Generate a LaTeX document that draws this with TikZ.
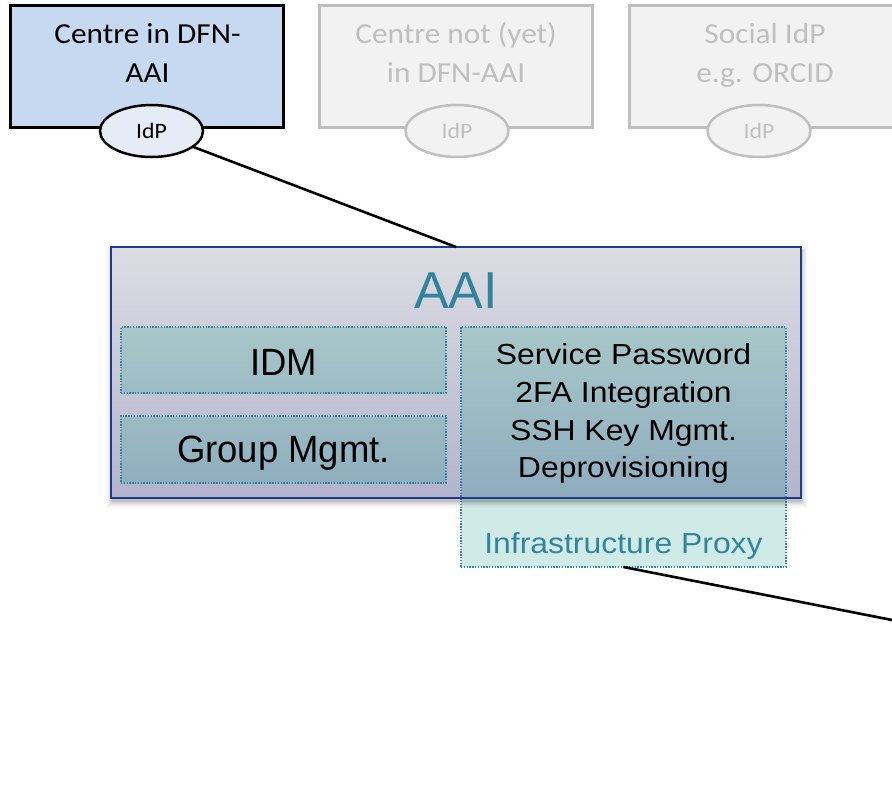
\documentclass[tikz,border=0pt]{standalone}
\usepackage{fontspec}
\newfontfamily\calib{Carlito}[FakeStretch=1.08]
\newfontfamily\arialx{Liberation Sans}[FakeStretch=1.1]
\newfontfamily\arialc{Liberation Sans}[FakeStretch=0.96]
\newfontfamily\arialn{Liberation Sans}
\usetikzlibrary{shapes.geometric}
\definecolor{boxblue}{HTML}{C6D9F1}
\definecolor{ellblue}{HTML}{E6ECF6}
\definecolor{greyfill}{HTML}{F2F2F2}
\definecolor{greyline}{HTML}{BFBFBF}
\definecolor{navy}{HTML}{1F3C88}
\definecolor{teal}{HTML}{31849B}
\definecolor{aaitop}{HTML}{DCDDE3}
\definecolor{aaibot}{HTML}{B3B3CE}
\definecolor{intop}{HTML}{A7C7C9}
\definecolor{inmid}{HTML}{9CBCC5}
\definecolor{inmid2}{HTML}{9BBAC4}
\definecolor{inlow}{HTML}{90AFBF}
\definecolor{inbot}{HTML}{8EACBE}
\definecolor{proxyfill}{HTML}{D0EBE7}
\begin{document}
\begin{tikzpicture}[x=1pt,y=-1pt,
  centrebox/.style={rectangle,inner sep=0pt,outer sep=0pt,minimum width=273pt,minimum height=122pt},
  activebox/.style={centrebox,draw=black,line width=3pt,fill=boxblue},
  greybox/.style={centrebox,draw=greyline,line width=3pt,fill=greyfill},
  idpshape/.style={ellipse,inner sep=0pt,outer sep=0pt,minimum width=103pt,minimum height=52pt,font=\calib\fontsize{22}{24}\selectfont},
  activeidp/.style={idpshape,draw=black,line width=2.5pt,fill=ellblue,text=black},
  greyidp/.style={idpshape,draw=greyline,line width=2.5pt,fill=greyfill,text=greyline},
  toptext/.style={anchor=base,inner sep=0pt,font=\calib\fontsize{29}{39}\selectfont},
  innerbox/.style={rectangle,inner sep=0pt,outer sep=0pt,draw=teal,line width=1.4pt,dash pattern=on 1.4pt off 1.4pt},
  innertext/.style={anchor=base,inner sep=0pt,font=\arialx\fontsize{29}{38}\selectfont,text=black},
  bigtext/.style={anchor=base,inner sep=0pt,font=\arialc\fontsize{38}{42}\selectfont,text=black},
  conn/.style={draw=black,line width=2.6pt}
]
\useasboundingbox (0,0) rectangle (892,790);

% top boxes
\node[activebox] (c1) at (146.5,66) {};
\node[greybox] (c2) at (456,66) {};
\node[greybox] (c3) at (766,66) {};

\node[toptext,text=black] (c1a) at (147.5,43) {Centre in DFN-};
\node[toptext,text=black] (c1b) at (147.5,82) {AAI};
\node[toptext,text=greyline] (c2a) at (456,43) {Centre not (yet)};
\node[toptext,text=greyline] (c2b) at (456,82) {in DFN-AAI};
\node[toptext,text=greyline] (c3a) at (765,43) {Social IdP};
\node[toptext,text=greyline] (c3b) at (765,82) {e.g. ORCID};

\node[activeidp] (idp1) at (151.5,131) {IdP};
\node[greyidp] (idp2) at (457,131) {IdP};
\node[greyidp] (idp3) at (759,131) {IdP};

% proxy lower part
\fill[proxyfill] (461,498) rectangle (786,567);

% AAI shadow
\foreach \i/\o in {0/0.08,1/0.06,2/0.045,3/0.035,4/0.025,5/0.02,6/0.015}{
  \fill[black,opacity=\o] (111-\i+1,251-\i) rectangle (801+\i+1,502+\i);
}

% AAI box
\node[rectangle,inner sep=0pt,outer sep=0pt,minimum width=690pt,minimum height=251pt,
      top color=aaitop,bottom color=aaibot] (aai) at (456,372.5) {};
\node[anchor=base,inner sep=0pt,font=\arialn\fontsize{52}{56}\selectfont,text=teal] (aailabel) at (456,308) {AAI};

% inner boxes
\shade[top color=intop,bottom color=inmid] (121,327) rectangle (446,393);
\shade[top color=inmid2,bottom color=inlow] (121,416) rectangle (446,483);
\shade[top color=intop,bottom color=inbot] (461,327) rectangle (786,498);

\node[innerbox,minimum width=325pt,minimum height=66pt] (idm) at (283.5,360) {};
\node[innerbox,minimum width=325pt,minimum height=67pt] (grp) at (283.5,449.5) {};
\node[innerbox,minimum width=325pt,minimum height=240pt] (rbox) at (623.5,447) {};

\node[bigtext] (idmt) at (283.5,375) {IDM};
\node[bigtext] (grpt) at (283.5,462.5) {Group Mgmt.};

\node[innertext] (s1) at (623.5,364) {Service Password};
\node[innertext] (s2) at (623.5,402) {2FA Integration};
\node[innertext] (s3) at (623.5,440) {SSH Key Mgmt.};
\node[innertext] (s4) at (623.5,477) {Deprovisioning};
\node[innertext,text=teal] (proxy) at (623.5,553) {Infrastructure Proxy};

% AAI border on top
\draw[navy,line width=2pt] (aai.south west) rectangle (aai.north east);

% connectors
\draw[conn] (idp1) -- (aai.north);
\coordinate (lineend) at (892,620);
\draw[conn] (rbox.south) -- (lineend);
\end{tikzpicture}
\end{document}
